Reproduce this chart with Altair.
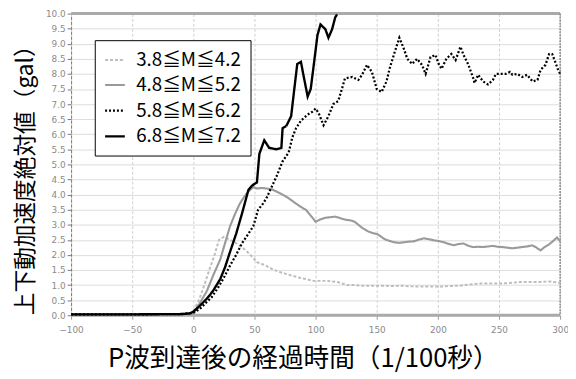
import altair as alt
import pandas as pd

series_names = ["3.8≦M≦4.2", "4.8≦M≦5.2", "5.8≦M≦6.2", "6.8≦M≦7.2"]

x_m4 = [-100, -50, -10, -3, 0, 5, 9, 13, 17, 21, 25, 30, 34, 38, 42, 46, 50, 52, 56, 60, 65, 70, 75, 81, 86,
        92, 98, 104, 110, 118, 126, 132, 138, 146, 154, 162, 170, 178, 186, 194, 202, 210, 218, 226, 234, 242,
        251, 259, 267, 275, 283, 291, 299, 300]
y_m4 = [0.02, 0.02, 0.03, 0.06, 0.13, 0.55, 1.0, 1.5, 1.96, 2.5, 2.6, 2.5, 2.42, 2.3, 2.18, 2.03, 1.85, 1.76,
        1.7, 1.63, 1.52, 1.44, 1.38, 1.31, 1.25, 1.2, 1.14, 1.14, 1.14, 1.1, 1.0, 1.0, 0.98, 0.98, 0.98, 0.97,
        0.98, 0.96, 0.95, 0.95, 0.95, 0.97, 0.98, 1.02, 1.05, 1.05, 1.05, 1.07, 1.1, 1.1, 1.1, 1.12, 1.08, 1.08]

x_m5 = [-100, -50, -10, -2, 1, 6, 11, 16, 22, 26, 30, 34, 38, 42, 45, 49, 52, 56, 60, 64, 68, 72, 76, 80, 84,
        89.5, 92, 97.5, 100, 104, 108, 112, 116, 120, 124, 128, 132, 138, 143, 147, 151, 156.5, 160, 164.5, 168,
        172.5, 176, 180.5, 184, 188.5, 193, 197, 201, 205, 209, 213, 217, 221, 225, 229, 233, 237, 241, 245, 249,
        253, 257, 261, 265, 269, 273, 277, 280, 284, 287, 291, 294, 297.5, 300]
y_m5 = [0.02, 0.02, 0.03, 0.06, 0.13, 0.45, 0.8, 1.3, 1.85, 2.4, 2.95, 3.35, 3.7, 3.95, 4.1, 4.25, 4.2, 4.22,
        4.2, 4.18, 4.1, 4.02, 3.93, 3.82, 3.7, 3.55, 3.5, 3.23, 3.1, 3.18, 3.23, 3.25, 3.27, 3.22, 3.17, 3.15,
        3.1, 2.9, 2.78, 2.72, 2.68, 2.52, 2.47, 2.42, 2.4, 2.42, 2.44, 2.45, 2.5, 2.55, 2.52, 2.48, 2.46, 2.42,
        2.36, 2.32, 2.36, 2.38, 2.3, 2.26, 2.27, 2.26, 2.28, 2.3, 2.27, 2.26, 2.24, 2.22, 2.24, 2.26, 2.28, 2.32,
        2.26, 2.15, 2.25, 2.35, 2.45, 2.58, 2.45]

x_m6 = [-100, -50, -10, 0, 5, 10, 15, 20, 25, 30, 35, 40, 45, 49, 53, 57, 60, 64, 68, 73, 78, 81, 84, 88, 93.5,
        97.5, 100, 102.5, 106.5, 110.5, 114.5, 118.5, 121.5, 124, 130, 135, 138, 142, 146, 150, 154, 158, 160.5,
        164.5, 168.5, 172.5, 175, 179, 183, 187, 190, 194, 198, 201, 203, 207, 211, 214.5, 218.5, 221, 225, 229,
        230, 233, 237, 241, 245, 247.5, 251.5, 255.5, 259, 261, 265, 269, 273, 277.5, 281.5, 284, 288, 291,
        293.5, 296, 298, 300]
y_m6 = [0.03, 0.03, 0.04, 0.08, 0.2, 0.4, 0.6, 0.9, 1.25, 1.65, 2.0, 2.4, 2.7, 2.95, 3.5, 3.7, 3.9, 4.25, 4.6,
        5.1, 5.4, 5.9, 6.2, 6.45, 6.65, 6.75, 6.85, 6.7, 6.3, 6.6, 7.0, 7.1, 7.5, 7.85, 7.9, 7.8, 7.97, 8.3,
        8.07, 7.5, 7.4, 7.75, 8.17, 8.7, 9.2, 8.8, 8.5, 8.33, 8.5, 8.3, 8.0, 8.56, 8.63, 8.3, 8.17, 8.5, 8.66,
        8.46, 8.9, 8.63, 8.3, 7.85, 7.7, 7.97, 7.75, 7.65, 7.8, 8.0, 8.0, 8.0, 8.07, 7.97, 8.0, 7.9, 7.97, 7.75,
        7.8, 8.13, 8.3, 8.66, 8.66, 8.4, 8.17, 8.0]

x_m7 = [-100, -50, -10, -3, 0, 5, 11, 16, 22, 26, 30, 35, 40, 45, 48, 52, 54, 58, 62, 68, 72, 73, 76, 80, 82,
        85, 88, 90, 93.5, 96, 98.5, 101.5, 104, 108, 110.5, 113.5, 116, 117.5]
y_m7 = [0.03, 0.03, 0.04, 0.06, 0.12, 0.3, 0.55, 0.8, 1.2, 1.6, 2.1, 2.7, 3.4, 4.15, 4.3, 4.4, 5.35, 5.8, 5.55,
        5.5, 5.55, 6.2, 6.27, 6.6, 7.3, 8.33, 8.4, 7.97, 7.25, 7.5, 8.3, 9.28, 9.64, 9.48, 9.2, 9.48, 9.87, 9.97]

x_ticks = [-100, -50, 0, 50, 100, 150, 200, 250, 300]
y_ticks = [i * 0.5 for i in range(21)]
frame_lines = [0.0, 10.0]

line_colors = ["#bdbdbd", "#9a9a9a", "#000000", "#000000"]
line_dashes = [[3, 2], [1, 0], [2, 2], [1, 0]]
line_widths = [2.0, 2.4, 2.2, 2.5]

rows = []
for name, xs, ys in zip(series_names, [x_m4, x_m5, x_m6, x_m7], [y_m4, y_m5, y_m6, y_m7]):
    for i, (xv, yv) in enumerate(zip(xs, ys)):
        rows.append({"series": name, "t": xv, "v": yv, "order": i})
df = pd.DataFrame(rows)

xscale = alt.Scale(domain=[-100, 300], nice=False)
yscale = alt.Scale(domain=[0, 10], nice=False)

x_axis = alt.Axis(values=x_ticks, title="P波到達後の経過時間（1/100秒）", labelFontSize=9,
                  labelColor="#8a8a8a", labelFont="DejaVu Sans", titleFont="Noto Sans CJK JP",
                  titleFontSize=26, titleFontWeight="normal", titleColor="#000", titlePadding=12,
                  titleX=235, titleAlign="center", grid=True, gridDash=[3, 2], gridColor="#cfcfcf",
                  domain=False, tickColor="#999", tickSize=4, labelPadding=6, labelOverlap=False,
                  labelFlush=False)
y_axis = alt.Axis(values=y_ticks, format=".1f", title="上下動加速度絶対値（gal）", labelFontSize=9,
                  labelColor="#8a8a8a", labelFont="DejaVu Sans", titleFont="Noto Sans CJK JP",
                  titleFontSize=23, titleFontWeight="normal", titleColor="#000", titlePadding=8,
                  titleY=163, grid=True, gridColor="#dcdcdc", domain=True, domainColor="#777",
                  domainDash=[3, 2], tickColor="#777", tickSize=4, labelPadding=2, labelOverlap=False,
                  labelFlush=False)

frame_df = pd.DataFrame({"y": frame_lines})
hrules = alt.Chart(frame_df).mark_rule(color="#aaaaaa", strokeWidth=3).encode(
    y=alt.Y("y:Q", scale=yscale, axis=y_axis)
)
right_df = pd.DataFrame({"x": [300]})
vrule = alt.Chart(right_df).mark_rule(color="#888888", strokeWidth=1.5, strokeDash=[2, 1]).encode(
    x=alt.X("x:Q", scale=xscale, axis=x_axis)
)

lines = alt.Chart(df).mark_line(interpolate="linear").encode(
    x=alt.X("t:Q", scale=xscale, axis=x_axis),
    y=alt.Y("v:Q", scale=yscale, axis=y_axis),
    color=alt.Color("series:N", scale=alt.Scale(domain=series_names, range=line_colors),
                    legend=alt.Legend(title=None)),
    strokeDash=alt.StrokeDash("series:N", scale=alt.Scale(domain=series_names, range=line_dashes),
                              legend=alt.Legend(title=None)),
    strokeWidth=alt.StrokeWidth("series:N", scale=alt.Scale(domain=series_names, range=line_widths),
                                legend=alt.Legend(title=None)),
    order="order:Q",
)

chart = alt.layer(hrules, vrule, lines).properties(
    width=496, height=306,
    autosize=alt.AutoSizeParams(type="none"),
    padding={"left": 64, "top": 3, "right": 8, "bottom": 62},
).configure_view(stroke=None).configure_legend(
    orient="none", legendX=24, legendY=27, fillColor="white", strokeColor="#000",
    padding=9, labelFont="Noto Sans CJK JP", labelFontSize=19, labelColor="#000",
    symbolType="stroke", symbolSize=400, labelOffset=10, rowPadding=4,
    labelLimit=300,
)

chart.save("out.html", embed_options={"renderer": "svg", "actions": False})
